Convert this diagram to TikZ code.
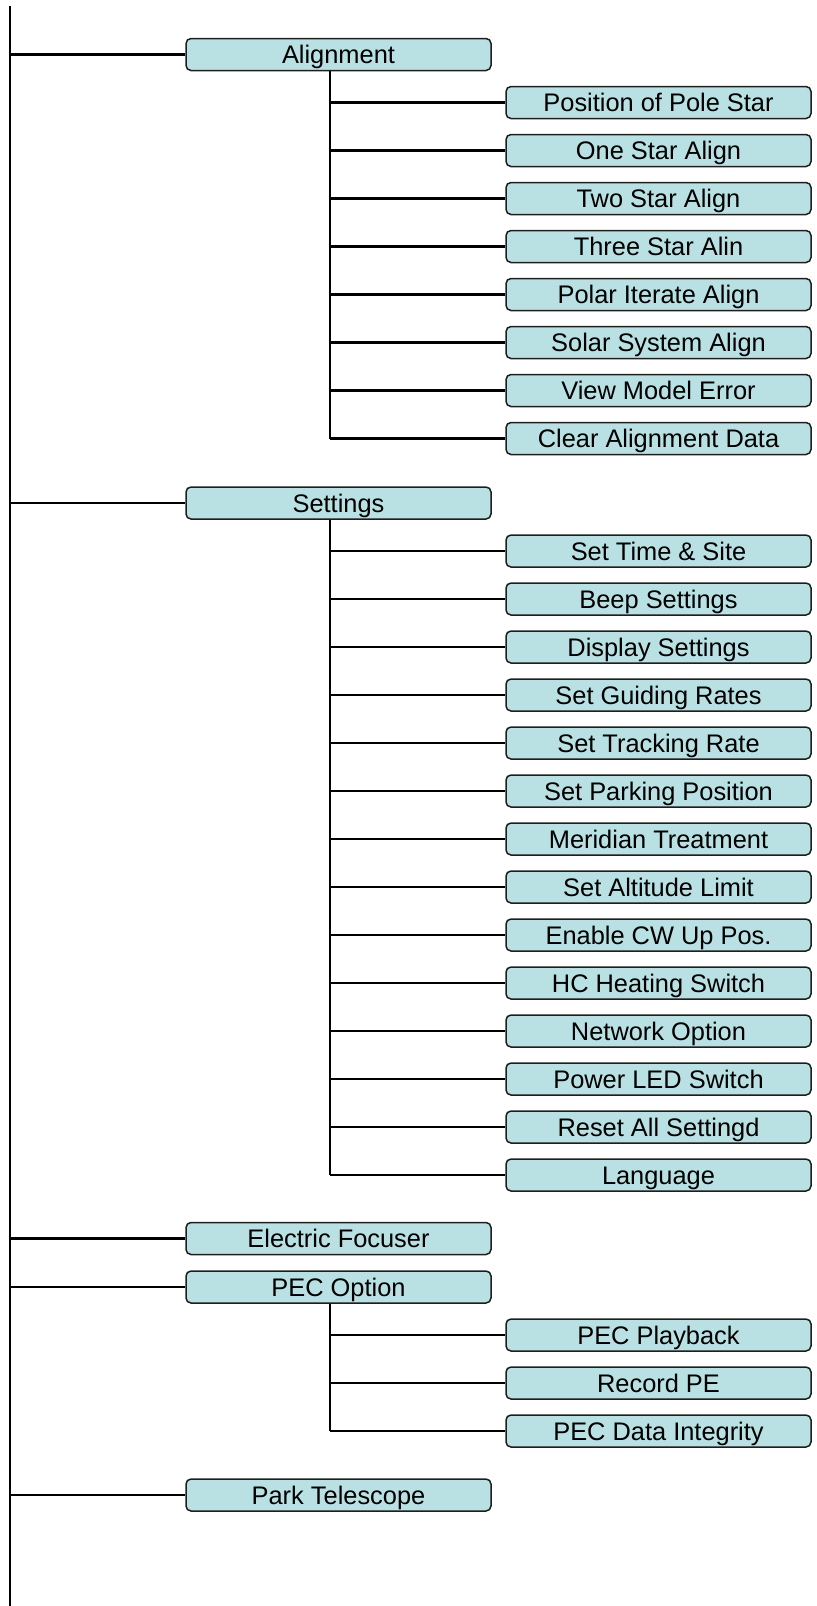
\documentclass[tikz,border=0pt]{standalone}
\usepackage{fontspec}
\setmainfont{Liberation Sans}
\definecolor{boxfill}{RGB}{185,224,227}
\definecolor{boxline}{RGB}{30,30,30}
\begin{document}
\begin{tikzpicture}[x=0.5pt,y=-0.5pt,
  item/.style={draw=boxline, line width=0.75pt, fill=boxfill, rounded corners=2.5pt,
    minimum width=152.5pt, minimum height=16pt, inner sep=0pt,
    font=\fontsize{12.7}{14}\selectfont, text height=9.1pt, text depth=0pt},
  conn/.style={line width=1.1pt, draw=black}]
\useasboundingbox (0,0) rectangle (817,1606);
% main spine
\coordinate (top) at (10,6);
\coordinate (bot) at (10,1606);
\coordinate (sub) at (330,0);
\draw[conn] (top) -- (bot);
% level 1
\node[item] (al) at (338.5,54.5) {Alignment};
\node[item] (se) at (338.5,503) {Settings};
\node[item] (ef) at (338.5,1238.5) {Electric Focuser};
\node[item] (pe) at (338.5,1287) {PEC Option};
\node[item] (pt) at (338.5,1495) {Park Telescope};
\foreach \n in {al,se,ef,pe,pt} \draw[conn] (top |- \n.west) -- (\n.west);
% alignment children
\foreach \t [count=\i from 0] in {Position of Pole Star,One Star Align,Two Star Align,Three Star Alin,Polar Iterate Align,Solar System Align,View Model Error,Clear Alignment Data}{
  \node[item] (a\i) at (658.5,102.5+48*\i) {\t};
  \draw[conn] (sub |- a\i.west) -- (a\i.west);
}
\draw[conn] (sub |- al.south) -- (sub |- a7.west);
% settings children
\foreach \t [count=\i from 0] in {Set Time \& Site,Beep Settings,Display Settings,Set Guiding Rates,Set Tracking Rate,Set Parking Position,Meridian Treatment,Set Altitude Limit,Enable CW Up Pos.,HC Heating Switch,Network Option,Power LED Switch,Reset All Settingd,Language}{
  \node[item] (s\i) at (658.5,551+48*\i) {\t};
  \draw[conn] (sub |- s\i.west) -- (s\i.west);
}
\draw[conn] (sub |- se.south) -- (sub |- s13.west);
% PEC children
\foreach \t [count=\i from 0] in {PEC Playback,Record PE,PEC Data Integrity}{
  \node[item] (p\i) at (658.5,1335+48*\i) {\t};
  \draw[conn] (sub |- p\i.west) -- (p\i.west);
}
\draw[conn] (sub |- pe.south) -- (sub |- p2.west);
\end{tikzpicture}
\end{document}
